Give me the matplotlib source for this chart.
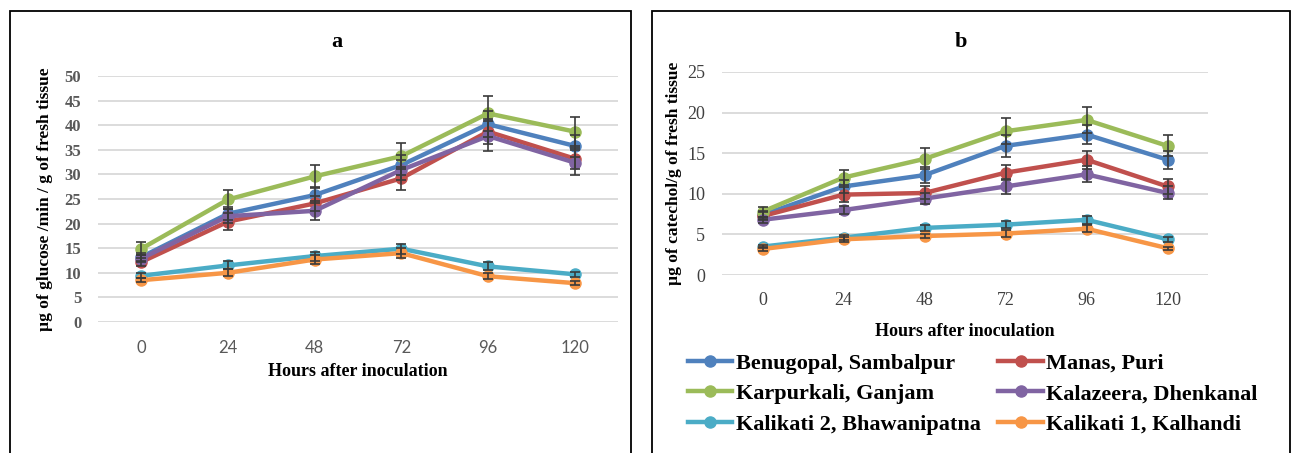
import numpy as np
import matplotlib
matplotlib.use("Agg")
import matplotlib.pyplot as plt
from matplotlib.patches import Rectangle

hours = ["0", "24", "48", "72", "96", "120"]
names = ["Benugopal, Sambalpur", "Manas, Puri", "Karpurkali, Ganjam",
         "Kalazeera, Dhenkanal", "Kalikati 2, Bhawanipatna", "Kalikati 1, Kalhandi"]
colors = ["#4F81BD", "#C0504D", "#9BBB59", "#8064A2", "#4BACC6", "#F79646"]

# cellulase activity (panel a)
glucose = [
    [13.2, 22.0, 25.8, 31.9, 40.2, 35.8],
    [12.2, 20.4, 24.1, 29.2, 38.7, 33.2],
    [14.9, 24.9, 29.6, 33.7, 42.4, 38.7],
    [12.9, 21.5, 22.6, 30.9, 37.8, 32.4],
    [9.4, 11.5, 13.4, 14.9, 11.3, 9.7],
    [8.5, 10.0, 12.7, 14.0, 9.3, 7.9],
]
glucose_err = [
    [0.9, 1.3, 1.6, 2.0, 2.6, 2.2],
    [0.8, 1.7, 1.5, 2.3, 2.5, 2.1],
    [1.3, 1.9, 2.4, 2.7, 3.5, 3.0],
    [0.8, 1.4, 1.9, 2.0, 3.0, 2.5],
    [0.5, 0.8, 0.9, 1.0, 0.8, 0.5],
    [0.4, 0.7, 0.9, 1.0, 0.6, 0.4],
]

# polyphenol oxidase activity (panel b)
catechol = [
    [7.4, 10.9, 12.3, 15.9, 17.3, 14.2],
    [7.25, 9.9, 10.1, 12.6, 14.2, 10.9],
    [7.8, 12.0, 14.3, 17.7, 19.1, 15.9],
    [6.8, 8.0, 9.4, 10.9, 12.4, 10.1],
    [3.5, 4.6, 5.8, 6.2, 6.8, 4.4],
    [3.2, 4.4, 4.8, 5.1, 5.7, 3.3],
]
catechol_err = [
    [0.5, 0.8, 1.0, 1.4, 1.2, 1.1],
    [0.5, 0.9, 0.8, 0.9, 1.1, 0.9],
    [0.6, 0.9, 1.3, 1.6, 1.6, 1.3],
    [0.4, 0.5, 0.7, 0.9, 1.0, 0.8],
    [0.2, 0.3, 0.4, 0.4, 0.5, 0.3],
    [0.2, 0.3, 0.3, 0.4, 0.4, 0.2],
]

W, H = 1296, 453
fig = plt.figure(figsize=(W / 100, H / 100), dpi=100)
serif = "Liberation Serif"


def px_axes(left, right, top, bottom):
    return fig.add_axes([left / W, 1 - bottom / H, (right - left) / W, (bottom - top) / H])


def draw_panel(ax, values, errs, ymax, ystep):
    x = np.arange(len(hours))
    for vals, err, c, name in zip(values, errs, colors, names):
        ax.plot(x, vals, color=c, lw=3.2, marker="o", ms=8, label=name, zorder=3)
        ax.errorbar(x, vals, yerr=err, fmt="none", ecolor="#3A3A3A", elinewidth=1.2,
                    capsize=3.5, capthick=1.2, zorder=4)
    ax.set_xlim(-0.5, len(hours) - 0.5)
    ax.set_ylim(0, ymax)
    ax.set_yticks(np.arange(0, ymax + 0.1, ystep))
    ax.set_xticks(x)
    ax.set_xticklabels(hours)
    ax.grid(axis="y", color="#D9D9D9", lw=1.3)
    ax.set_axisbelow(True)
    for s in ax.spines.values():
        s.set_visible(False)
    ax.tick_params(length=0)


# panel frames
for x0, x1 in [(10, 631), (652, 1290)]:
    fig.patches.append(Rectangle((x0 / W, -0.05), (x1 - x0) / W, 1 - 11 / H + 0.05,
                                 transform=fig.transFigure, fill=False, ec="black", lw=1.3))

# panel a
ax1 = px_axes(98, 618, 76, 322)
draw_panel(ax1, glucose, glucose_err, 50, 5)
for t in ax1.get_yticklabels():
    t.set_fontfamily(serif)
    t.set_fontweight("bold")
    t.set_fontsize(12)
    t.set_color("#595959")
for t in ax1.get_xticklabels():
    t.set_fontfamily("Lato")
    t.set_fontsize(12)
    t.set_color("#595959")
ax1.tick_params(axis="y", pad=12)
ax1.tick_params(axis="x", pad=13)
ax1.set_xlabel("Hours after inoculation", family=serif, fontweight="bold", fontsize=13, labelpad=5)
ax1.set_ylabel("µg of glucose /min / g of fresh tissue", family=serif, fontweight="bold",
               fontsize=12.5, labelpad=8)
fig.text(337 / W, 1 - 42 / H, "a", family=serif, fontweight="bold", fontsize=16,
         ha="center", va="center")

# panel b
ax2 = px_axes(722, 1208, 72, 275)
draw_panel(ax2, catechol, catechol_err, 25, 5)
for t in ax2.get_yticklabels() + ax2.get_xticklabels():
    t.set_fontfamily(serif)
    t.set_fontsize(13)
    t.set_color("#404040")
ax2.tick_params(axis="y", pad=12)
ax2.tick_params(axis="x", pad=12)
ax2.set_xlabel("Hours after inoculation", family=serif, fontweight="bold", fontsize=13, labelpad=10)
ax2.set_ylabel("µg of catechol/g of fresh tissue", family=serif, fontweight="bold",
               fontsize=12.5, labelpad=4)
fig.text(961 / W, 1 - 42 / H, "b", family=serif, fontweight="bold", fontsize=16,
         ha="center", va="center")

handles, labels = ax2.get_legend_handles_labels()
order = [0, 2, 4, 1, 3, 5]
fig.legend([handles[i] for i in order], [labels[i] for i in order], ncol=2,
           loc="upper left", bbox_to_anchor=(688 / W, 1 - 353 / H), frameon=False,
           prop={"family": serif, "weight": "bold", "size": 16},
           handlelength=2.0, handletextpad=0.15, columnspacing=0.8, labelspacing=0.45,
           borderaxespad=0, borderpad=0)

fig.savefig("out.png", dpi=100)
